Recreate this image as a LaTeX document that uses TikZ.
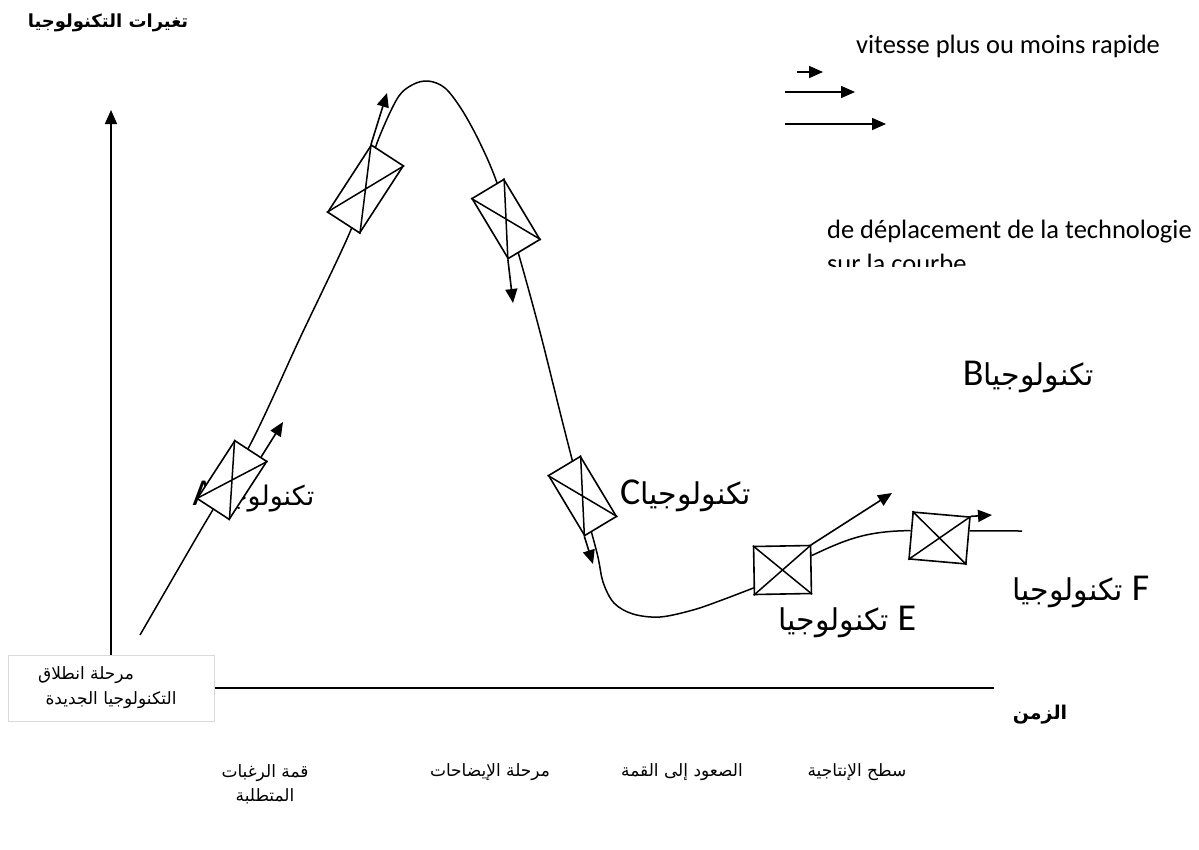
\documentclass[tikz,border=0pt]{standalone}
\usepackage{fontspec}
\setmainfont{Carlito}
\newfontfamily\arabicfont[Script=Arabic]{DejaVu Sans}
\TeXXeTstate=1
\usetikzlibrary{arrows.meta,calc}
\newcommand{\artxt}[1]{{\arabicfont\beginR #1\endR}}
\newcommand{\techword}[1][30]{\artxt{\fontsize{#1}{34}\selectfont تكنولوجيا}}

\begin{document}
\begin{tikzpicture}[
        x=1pt, y=-1pt,
        line width=1.5pt,
        font=\fontsize{26.5}{34}\selectfont
    ]
    \tikzset{
        techbox/.style = {draw=black, fill=white, inner sep=0pt, line width=1.6pt},
        speed/.style = {-{Triangle[length=14pt,width=12pt]}, line width=1.6pt},
        curveline/.style = {line width=1.5pt},
        arlabel/.style = {font=\fontsize{17}{24}\selectfont, align=center},
        techlabel/.style = {font=\fontsize{38}{40}\selectfont, inner sep=0pt},
        startbox/.style = {draw=black!15, line width=1pt, minimum width=206, minimum height=66,
                           align=center, font=\fontsize{17}{25}\selectfont},
    }
    \useasboundingbox (0,0) rectangle (1199,849);
    % axes
    \node[font=\bfseries\fontsize{18}{24}\selectfont] at (108,23) (ytitle) {\artxt{تغيرات التكنولوجيا}};
    \node[startbox] at (111,688) (start) {\artxt{مرحلة انطلاق}\hspace*{50pt}\\\artxt{التكنولوجيا الجديدة}};
    \coordinate (ytop) at (111,110);
    \coordinate (xend) at (994,688);
    \draw[speed] (start.north) -- (ytop);
    \draw (start.east) -- (xend);
    \node[font=\bfseries\fontsize{19}{22}\selectfont] at (1040,715) (xtitle) {\artxt{الزمن}};
    %
    % legend
    \node[anchor=base west] at (852,53) (vit) {vitesse plus ou moins rapide};
    \coordinate (l1a) at (797,72);  \coordinate (l1b) at (823,72);
    \coordinate (l2a) at (785,92);  \coordinate (l2b) at (855,92);
    \coordinate (l3a) at (785,124); \coordinate (l3b) at (886,124);
    \draw[speed] (l1a) -- (l1b);
    \draw[speed] (l2a) -- (l2b);
    \draw[speed] (l3a) -- (l3b);
    \node[anchor=base west] at (823,238) (dep) {de déplacement de la technologie};
    \begin{scope}
        \clip (800,244) rectangle (1199,266);
        \node[anchor=base west] at (823,272) (sur) {sur la courbe};
    \end{scope}
    %
    % labels of the technologies
    \node[techlabel, anchor=base east] at (315,505) (laba) {A\techword[27]};
    \node[techlabel, anchor=base west] at (962,385) (labb) {B\techword};
    \node[techlabel, anchor=base east] at (752,504) (labc) {C\techword};
    \node[techlabel, anchor=base east] at (917,630) (labe) {\techword{} E};
    \node[techlabel, anchor=base east] at (1150,600) (labf) {\techword{} F};
    %
    % the curve
    \draw[curveline] plot[smooth, tension=0.55] coordinates {
        (140,635) (195,540) (250,445) (300,338) (350,232) (365,185) (377,143)
        (397,99) (412,85) (428,81) (445,88) (462,110) (480,143) (497,183)
        (518,252) (540,332) (562,420) (580,490) (597,553) (603,582) (614,603)
        (633,614) (660,617) (693,610) (722,600) (756,587)};
    %
    \node[techbox, minimum width=38, minimum height=69, rotate=-33] at (232,480) (boxa) {};
    \node[techbox, minimum width=38, minimum height=80, rotate=-33] at (365.5,189) (boxb) {};
    \node[techbox, minimum width=37, minimum height=70, rotate=31] at (506,219) (boxc) {};
    \node[techbox, minimum width=37, minimum height=70, rotate=31] at (582.5,496) (boxd) {};
    \node[techbox, minimum width=57, minimum height=48, rotate=1] at (782.5,570) (boxe) {};
    \node[techbox, minimum width=57, minimum height=47, rotate=-5] at (939.5,538) (boxf) {};
    \foreach \b in {boxa,boxb,boxc,boxd,boxe,boxf}
        \draw (\b.north west) -- (\b.south east) (\b.north east) -- (\b.south west);
    %
    \draw[curveline] ($(boxe.north east)!0.22!(boxe.south east)$) .. controls (845,540) and (865,531) .. ($(boxf.north west)!0.4!(boxf.south west)$);
    \coordinate (fend) at (1022,531);
    \draw[curveline] ($(boxf.north east)!0.3!(boxf.south east)$) -- (fend);
    %
    % moving arrows
    \coordinate (tipa) at (283,422);
    \coordinate (tipb) at (387,93);
    \coordinate (tipc) at (513,303);
    \coordinate (tipd) at (593,564);
    \coordinate (tipe) at (892,493);
    \coordinate (tipf) at (992,515);
    \draw[speed] ($(boxa.north)!0.6!(boxa.north east)$) -- (tipa);
    \draw[speed] (boxb.north west) -- (tipb);
    \draw[speed] (boxc.south west) -- (tipc);
    \draw[speed] (boxd.south west) -- (tipd);
    \draw[speed] (boxe.north east) -- (tipe);
    \draw[speed] (boxf.north east) -- (tipf);
    %
    % phases
    \node[arlabel] at (265,784) (peak) {\artxt{قمة الرغبات}\\\artxt{المتطلبة}};
    \node[arlabel] at (490,772) (trough) {\artxt{مرحلة الإيضاحات}};
    \node[arlabel] at (682,772) (slope) {\artxt{الصعود إلى القمة}};
    \node[arlabel] at (857,772) (plateau) {\artxt{سطح الإنتاجية}};
\end{tikzpicture}
\end{document}
